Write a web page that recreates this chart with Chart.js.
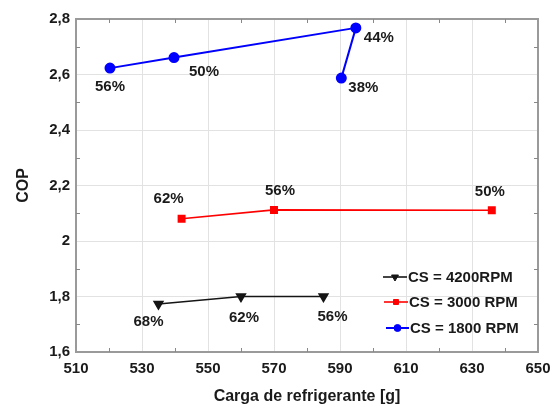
<!DOCTYPE html>
<html>
<head>
<meta charset="utf-8">
<script src="https://cdn.jsdelivr.net/npm/chart.js@4.4.0/dist/chart.umd.min.js"></script>
<style>
  html, body { margin: 0; padding: 0; background: #fff; }
</style>
</head>
<body>
<canvas id="myChart" width="552" height="406"></canvas>
<script>
'use strict';

// refrigerant charge [g] vs COP, one series per compressor speed
let charge4200 = [535, 560, 585];
let cop4200 = [1.773, 1.8, 1.8];
let pct4200 = ['68%', '62%', '56%'];

let charge3000 = [542, 570, 636];
let cop3000 = [2.08, 2.112, 2.111];
let pct3000 = ['62%', '56%', '50%'];

let charge1800 = [520.3, 539.7, 594.8, 590.4];
let cop1800 = [2.623, 2.661, 2.768, 2.587];
let pct1800 = ['56%', '50%', '44%', '38%'];

let seriesNames = ['CS = 4200RPM', 'CS = 3000 RPM', 'CS = 1800 RPM'];

let xMin = 510, xMax = 650, xStep = 20;
let yMin = 1.6, yMax = 2.8, yStep = 0.2;

// where each % label sits relative to its point (px)
let labelOffsets = [
    [[-10, 18], [3, 21], [9, 20]],
    [[-13, -20], [6, -19], [-2, -18]],
    [[0, 19], [30, 14], [23, 10], [22, 10]]
];

const FONT = 'Liberation Sans, Arial, sans-serif';

function toPoints(xs, ys){
    let pts = [];
    for(let i = 0; i < xs.length; i++){
        pts.push({x: xs[i], y: ys[i]});
    }
    return pts;
}

let pctLabels = [pct4200, pct3000, pct1800];

// frame, minor ticks, point labels and the legend box
const extrasPlugin = {
    id: 'extras',
    afterDraw(chart){
        let ctx = chart.ctx;
        let area = chart.chartArea;
        let sx = chart.scales.x, sy = chart.scales.y;
        ctx.save();

        // top/right frame
        ctx.strokeStyle = '#9a9a9a';
        ctx.lineWidth = 2;
        ctx.beginPath();
        ctx.moveTo(area.left, area.top);
        ctx.lineTo(area.right, area.top);
        ctx.lineTo(area.right, area.bottom);
        ctx.stroke();

        // minor ticks
        ctx.lineWidth = 1;
        ctx.strokeStyle = '#888';
        ctx.beginPath();
        for(let v = xMin + xStep / 2; v < xMax; v += xStep){
            let px = Math.round(sx.getPixelForValue(v)) + 0.5;
            ctx.moveTo(px, area.bottom); ctx.lineTo(px, area.bottom - 4);
            ctx.moveTo(px, area.top); ctx.lineTo(px, area.top + 4);
        }
        for(let v = yMin + yStep / 2; v < yMax; v += yStep){
            let py = Math.round(sy.getPixelForValue(v)) + 0.5;
            ctx.moveTo(area.left, py); ctx.lineTo(area.left + 4, py);
            ctx.moveTo(area.right, py); ctx.lineTo(area.right - 4, py);
        }
        ctx.stroke();

        // percentage labels
        ctx.font = 'bold 15px ' + FONT;
        ctx.fillStyle = '#1a1a1a';
        ctx.textAlign = 'center';
        ctx.textBaseline = 'middle';
        chart.data.datasets.forEach((ds, i) => {
            let meta = chart.getDatasetMeta(i);
            meta.data.forEach((el, j) => {
                let off = labelOffsets[i][j];
                ctx.fillText(pctLabels[i][j], el.x + off[0], el.y + off[1]);
            });
        });

        // legend
        let rows = [277, 302, 328];
        let sampleX = [[383, 407], [384, 408], [386, 409]];
        chart.data.datasets.forEach((ds, i) => {
            let y = rows[i];
            let x0 = sampleX[i][0], x1 = sampleX[i][1];
            ctx.strokeStyle = ds.borderColor;
            ctx.fillStyle = ds.backgroundColor;
            ctx.lineWidth = ds.borderWidth;
            ctx.beginPath();
            ctx.moveTo(x0, y); ctx.lineTo(x1, y);
            ctx.stroke();
            ctx.lineWidth = 1;
            Chart.helpers.drawPoint(ctx, {
                pointStyle: ds.pointStyle,
                rotation: ds.pointRotation || 0,
                radius: ds.pointRadius - 1,
                borderWidth: 1
            }, (x0 + x1) / 2, y);
            ctx.fillStyle = '#1a1a1a';
            ctx.textAlign = 'left';
            ctx.textBaseline = 'middle';
            ctx.font = 'bold 15px ' + FONT;
            ctx.fillText(seriesNames[i], x1 + 1, y + 1);
        });
        ctx.restore();
    }
};

let ctx = document.getElementById('myChart').getContext('2d');
let chart = new Chart(ctx, {
    type: 'scatter',
    data: {
        datasets: [{
            label: seriesNames[0],
            data: toPoints(charge4200, cop4200),
            showLine: true,
            borderColor: '#151515',
            backgroundColor: '#151515',
            borderWidth: 1.6,
            pointStyle: 'triangle',
            pointRotation: 180,
            pointRadius: 5
        },{
            label: seriesNames[1],
            data: toPoints(charge3000, cop3000),
            showLine: true,
            borderColor: '#ff0000',
            backgroundColor: '#ff0000',
            borderWidth: 1.6,
            pointStyle: 'rect',
            pointRadius: 4.5
        },{
            label: seriesNames[2],
            data: toPoints(charge1800, cop1800),
            showLine: true,
            borderColor: '#0000ff',
            backgroundColor: '#0000ff',
            borderWidth: 2,
            pointStyle: 'circle',
            pointRadius: 4.5
        }]
    },
    options: {
        responsive: false,
        animation: false,
        layout: {padding: {top: 19, right: 14, left: 0, bottom: 0}},
        plugins: {
            legend: {display: false},
            tooltip: {enabled: false}
        },
        scales: {
            x: {
                type: 'linear',
                min: xMin,
                max: xMax,
                ticks: {
                    stepSize: xStep,
                    color: '#1a1a1a',
                    padding: 8,
                    maxRotation: 0,
                    font: {family: FONT, size: 15, weight: 'bold'}
                },
                grid: {color: '#e2e2e2', drawTicks: false},
                border: {color: '#9a9a9a', width: 2},
                title: {
                    display: true,
                    text: 'Carga de refrigerante [g]',
                    color: '#1a1a1a',
                    padding: 0,
                    font: {family: FONT, size: 16, weight: 'bold'}
                },
                afterFit(scale){
                    scale.height = 54;
                    scale.paddingLeft = 0;
                    scale.paddingRight = 0;
                }
            },
            y: {
                min: yMin,
                max: yMax,
                ticks: {
                    stepSize: yStep,
                    color: '#1a1a1a',
                    padding: 6,
                    font: {family: FONT, size: 15, weight: 'bold'},
                    callback: function(v){ return String(+v.toFixed(1)).replace('.', ','); }
                },
                grid: {color: '#e2e2e2', drawTicks: false},
                border: {color: '#9a9a9a', width: 2},
                title: {
                    display: true,
                    text: 'COP',
                    color: '#1a1a1a',
                    padding: {top: 14, bottom: 0},
                    font: {family: FONT, size: 16, weight: 'bold'}
                },
                afterFit(scale){
                    scale.width = 76;
                    scale.paddingTop = 0;
                    scale.paddingBottom = 0;
                }
            }
        }
    },
    plugins: [extrasPlugin]
});
</script>
</body>
</html>
